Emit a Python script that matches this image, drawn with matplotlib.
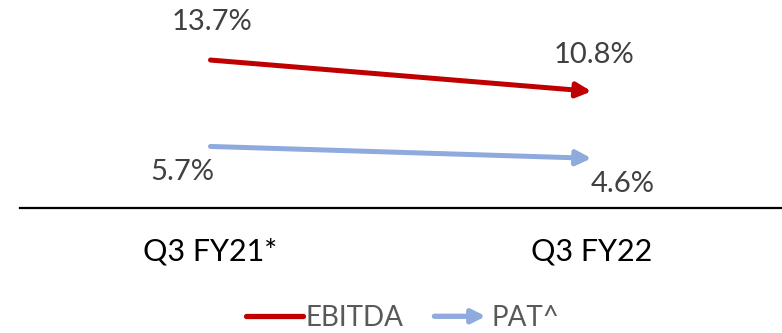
import matplotlib.pyplot as plt
from matplotlib.lines import Line2D
from matplotlib.patches import FancyArrowPatch
from matplotlib.legend_handler import HandlerBase

# margin data (%)
quarters = ['Q3 FY21*', 'Q3 FY22']
ebitda = [13.7, 10.8]
pat = [5.7, 4.6]

RED = '#C00000'
BLUE = '#8FAADC'
plt.rcParams['font.family'] = ['Lato', 'DejaVu Sans']


class HandlerArrow(HandlerBase):
    # legend key drawn as a short arrow
    def create_artists(self, legend, orig_handle, xdescent, ydescent,
                       width, height, fontsize, trans):
        y = height / 2 - ydescent
        a = FancyArrowPatch((-xdescent, y), (width - xdescent, y),
                            arrowstyle='-|>', mutation_scale=20,
                            color=orig_handle.get_color(), lw=3.8,
                            capstyle='round', transform=trans)
        return [a]


fig = plt.figure(figsize=(7.82, 3.33), dpi=100)
ax = fig.add_axes([20 / 782, 125 / 333, 762 / 782, 208 / 333])

x = list(range(len(quarters)))
for vals, col in [(ebitda, RED), (pat, BLUE)]:
    ax.annotate('', xy=(x[1], vals[1]), xytext=(x[0], vals[0]),
                arrowprops=dict(arrowstyle='-|>', color=col, lw=3.6,
                                mutation_scale=22, shrinkA=0, shrinkB=0,
                                capstyle='round'))

lab = dict(ha='center', va='center', fontsize=21, color='#404040',
           textcoords='offset pixels')
ax.annotate(f'{ebitda[0]}%', (x[0], ebitda[0]), xytext=(1, 38), **lab)
ax.annotate(f'{ebitda[1]}%', (x[1], ebitda[1]), xytext=(2, 36), **lab)
ax.annotate(f'{pat[0]}%', (x[0], pat[0]), xytext=(-28, -26), **lab)
ax.annotate(f'{pat[1]}%', (x[1], pat[1]), xytext=(31, -26), **lab)

ax.set_xlim(-0.5, 1.5)
ax.set_ylim(0, 208 / 10.8)
ax.set_xticks(x)
ax.set_xticklabels(quarters, fontsize=22, color='black')
ax.tick_params(axis='x', length=0, pad=21)
ax.set_yticks([])
for s in ['top', 'left', 'right']:
    ax.spines[s].set_visible(False)
ax.spines['bottom'].set_linewidth(1.6)
ax.spines['bottom'].set_color('black')

h1 = Line2D([], [], color=RED, lw=3.8, solid_capstyle='round')
h2 = Line2D([], [], color=BLUE, lw=3.8)
fig.legend([h1, h2], ['EBITDA', 'PAT^'], loc='center',
           bbox_to_anchor=(0.515, 1 - 318 / 333), ncol=2, frameon=False,
           fontsize=20, labelcolor='#595959', handlelength=2.05,
           handletextpad=0.1, columnspacing=1.0,
           handler_map={h2: HandlerArrow()})

fig.savefig('out.png', dpi=100)
